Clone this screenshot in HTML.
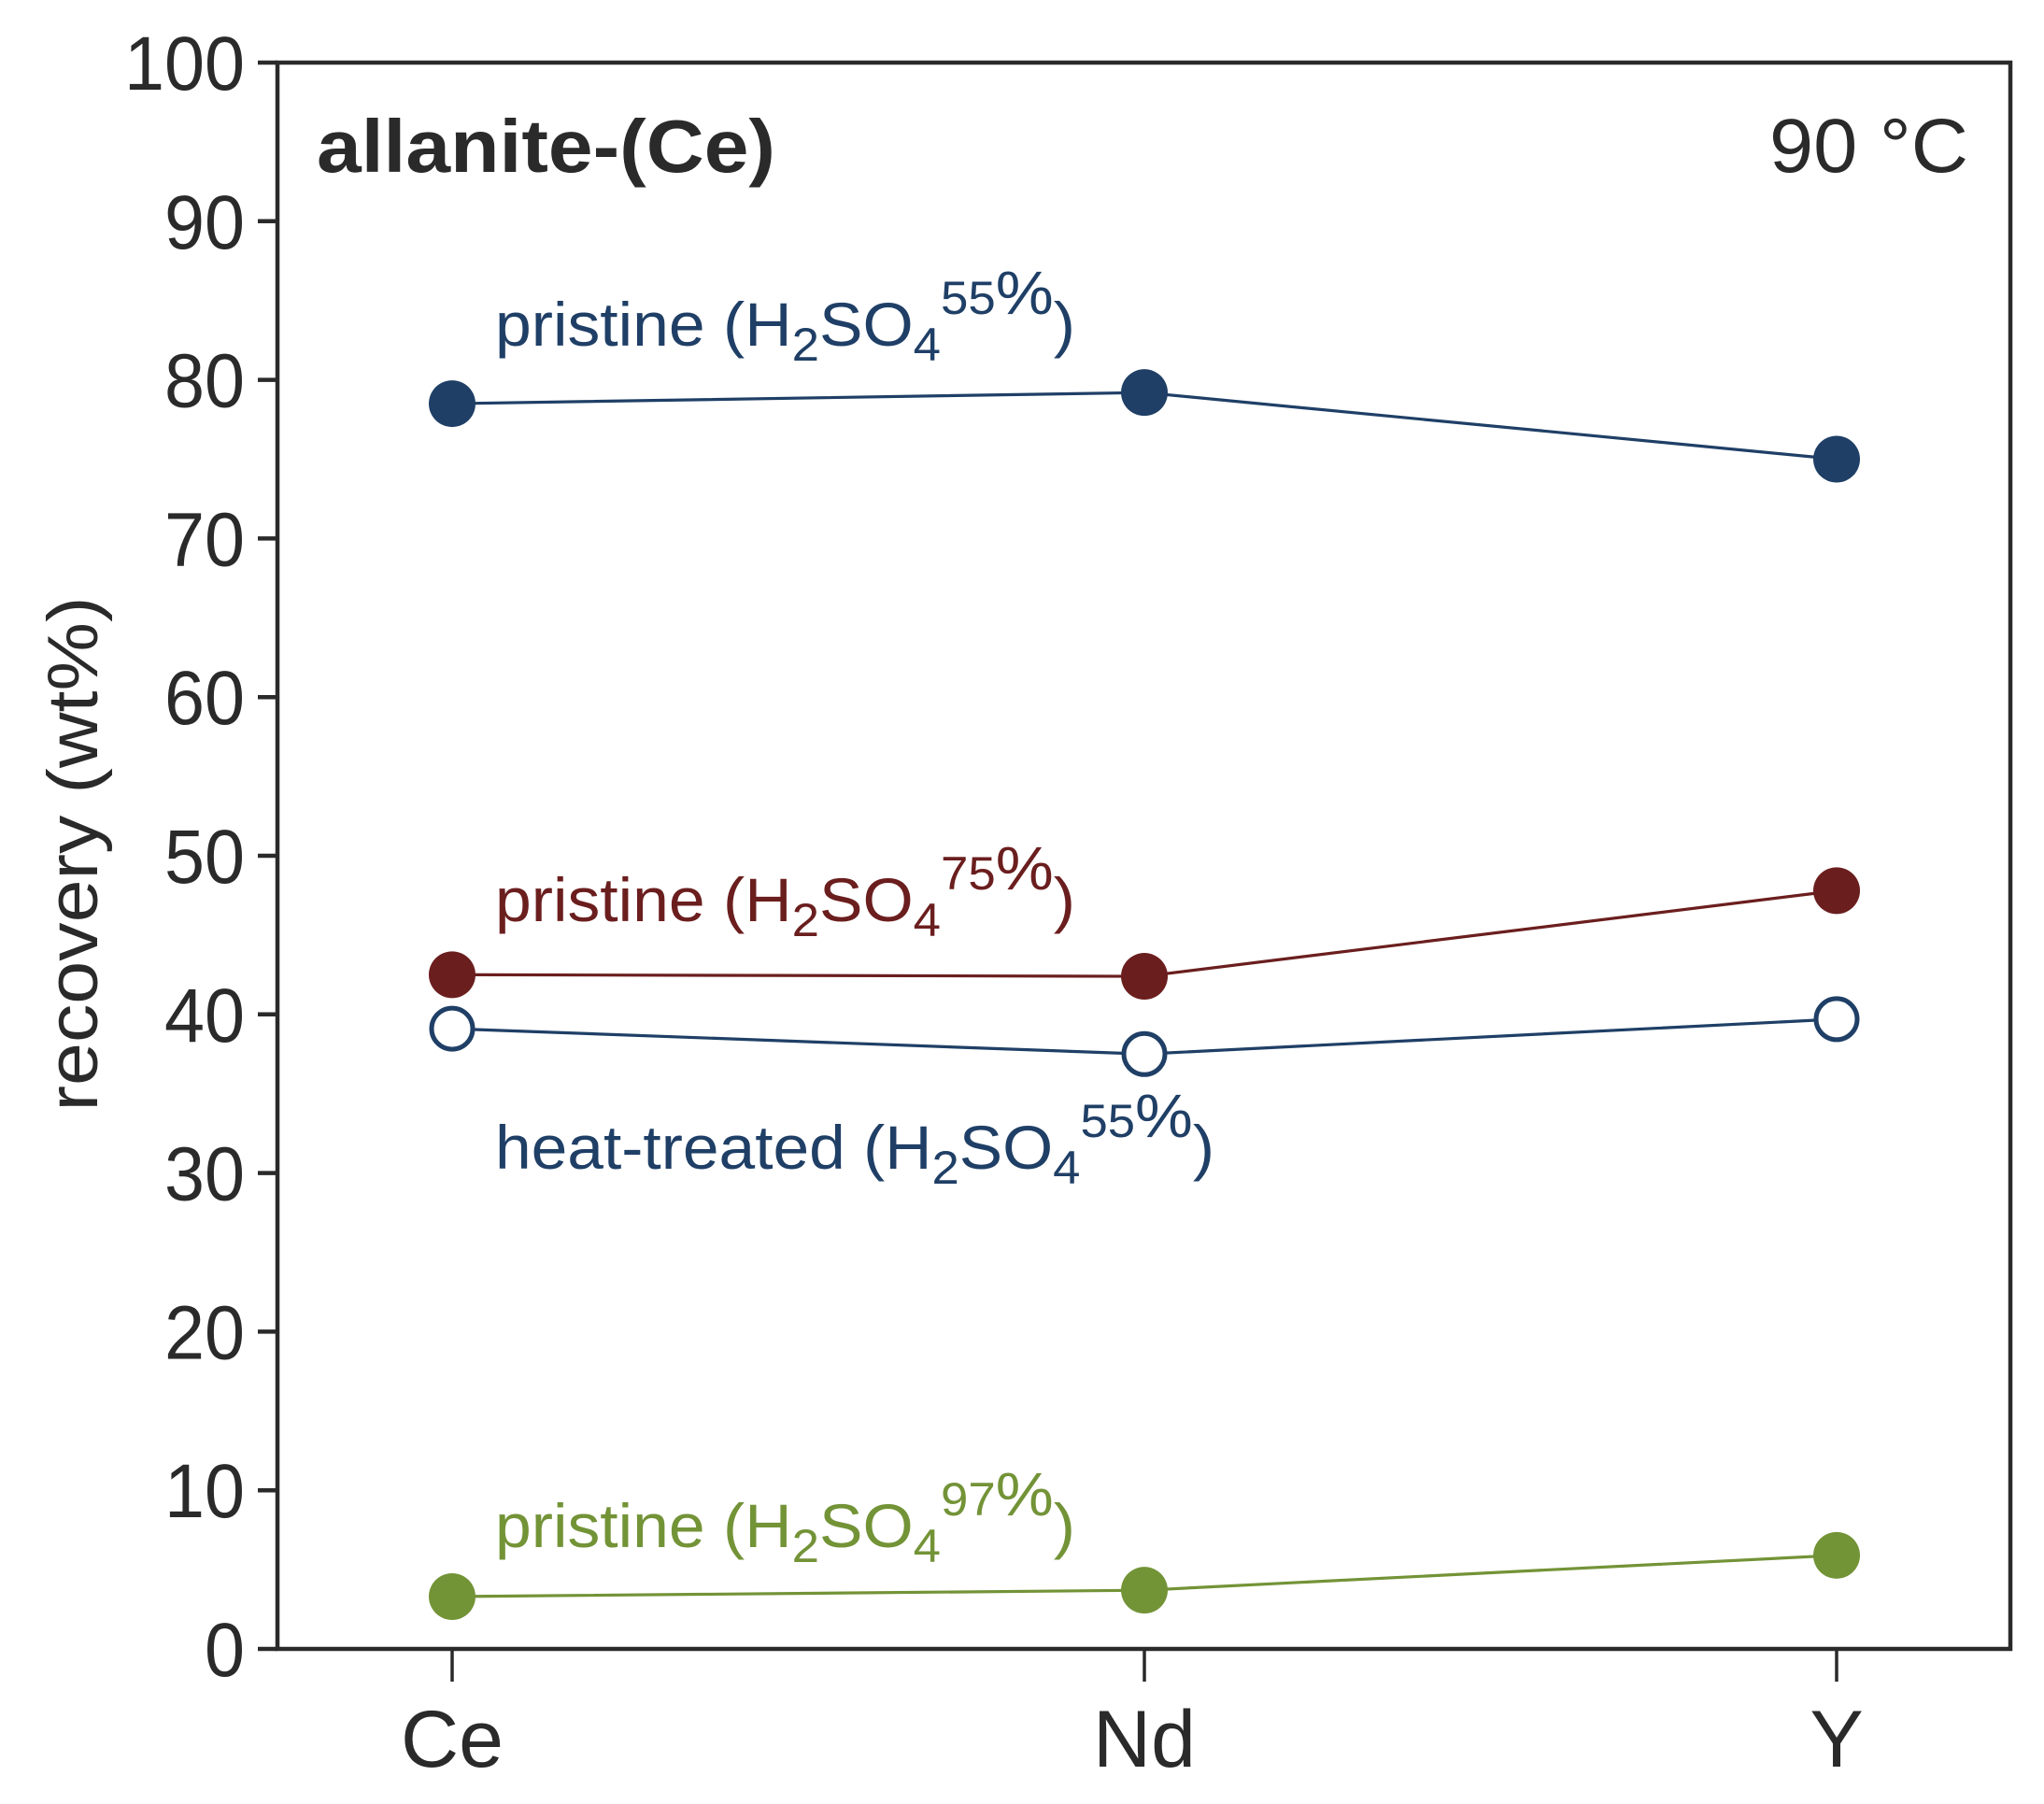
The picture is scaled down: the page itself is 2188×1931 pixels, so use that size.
<!DOCTYPE html>
<html><head><meta charset="utf-8"><style>
html,body{margin:0;padding:0;background:#fff;}
svg{display:block;font-family:"Liberation Sans",Arial,sans-serif;}
</style></head><body>
<svg id="chart" width="2188" height="1931" viewBox="0 0 2188 1931" xmlns="http://www.w3.org/2000/svg">
<g id="axes"></g>
<g id="series"></g>
<g id="labels">
  <text x="339" y="184" font-size="80" font-weight="bold" fill="#2a2a2a" textLength="491" lengthAdjust="spacingAndGlyphs">allanite-(Ce)</text>
  <text x="1894" y="184" font-size="82" fill="#2a2a2a" textLength="213" lengthAdjust="spacingAndGlyphs">90 °C</text>
  <text transform="translate(104,914) rotate(-90)" font-size="76" fill="#2a2a2a" text-anchor="middle" textLength="551" lengthAdjust="spacingAndGlyphs">recovery (wt%)</text>
  <text x="530" y="370" font-size="66" fill="#1f3f66" textLength="621" lengthAdjust="spacingAndGlyphs">pristine (H<tspan font-size="50" dy="16">2</tspan><tspan dy="-16">SO</tspan><tspan font-size="50" dy="16">4</tspan><tspan font-size="50" dy="-50">55</tspan><tspan>%</tspan><tspan dy="34">)</tspan></text>
  <text x="530" y="986" font-size="66" fill="#6b1e1e" textLength="621" lengthAdjust="spacingAndGlyphs">pristine (H<tspan font-size="50" dy="16">2</tspan><tspan dy="-16">SO</tspan><tspan font-size="50" dy="16">4</tspan><tspan font-size="50" dy="-50">75</tspan><tspan>%</tspan><tspan dy="34">)</tspan></text>
  <text x="530" y="1251" font-size="66" fill="#1f3f66" textLength="770" lengthAdjust="spacingAndGlyphs">heat-treated (H<tspan font-size="50" dy="16">2</tspan><tspan dy="-16">SO</tspan><tspan font-size="50" dy="16">4</tspan><tspan font-size="50" dy="-50">55</tspan><tspan>%</tspan><tspan dy="34">)</tspan></text>
  <text x="530" y="1656" font-size="66" fill="#739337" textLength="621" lengthAdjust="spacingAndGlyphs">pristine (H<tspan font-size="50" dy="16">2</tspan><tspan dy="-16">SO</tspan><tspan font-size="50" dy="16">4</tspan><tspan font-size="50" dy="-50">97</tspan><tspan>%</tspan><tspan dy="34">)</tspan></text>
</g>
</svg>
<script>
const categories = ["Ce", "Nd", "Y"];
const yTicks = [0, 10, 20, 30, 40, 50, 60, 70, 80, 90, 100];
const pristine55 = [78.5, 79.2, 75.0];
const pristine75 = [42.5, 42.4, 47.8];
const heat55 = [39.1, 37.5, 39.7];
const pristine97 = [3.3, 3.7, 5.9];

const NS = "http://www.w3.org/2000/svg";
const L = 297, R = 2152, T = 67, B = 1765;
const catX = [484, 1225, 1966];
function xScale(i){ return catX[0] + (catX[2]-catX[0]) * i / (categories.length-1); }
function yScale(v){ return B - (B-T) * v / 100; }
function mk(tag, attrs, parent){ const e=document.createElementNS(NS,tag); for(const k in attrs) e.setAttribute(k,attrs[k]); parent.appendChild(e); return e; }

const axes = document.getElementById('axes');
const frame = mk('rect',{x:L,y:T,width:R-L,height:B-T,fill:'none',stroke:'#2a2a2a','stroke-width':4.5},axes);


yTicks.forEach(v=>{
  const y=yScale(v);
  const t=mk('line',{x1:276,x2:L,y1:y,y2:y,stroke:'#2a2a2a','stroke-width':4.5},axes);
  
  
  const s=String(v);
  const lb=mk('text',{x:262,y:y+29,'font-size':82,fill:'#2a2a2a','text-anchor':'end','textLength':s.length*43,'lengthAdjust':'spacingAndGlyphs'},axes);
  lb.textContent=s;
  
  
});
categories.forEach((c,i)=>{
  const x=xScale(i);
  const t=mk('line',{x1:x,x2:x,y1:B,y2:1800,stroke:'#2a2a2a','stroke-width':3.5},axes);
  
  
  const lb=mk('text',{x:x,y:1891,'font-size':86,fill:'#2a2a2a','text-anchor':'middle'},axes);
  lb.textContent=c;
  
  
});

const seriesG = document.getElementById('series');
function drawSeries(vals, color, open, name){
  const g=mk('g',{},seriesG);
  
  
  const pts=vals.map((v,i)=>xScale(i)+','+yScale(v)).join(' ');
  const pl=mk('polyline',{points:pts,fill:'none',stroke:color,'stroke-width':3.2},g);
  
  
  vals.forEach((v,i)=>{
    const c=mk('circle',{cx:xScale(i),cy:yScale(v),r:open?22:25,fill:open?'#fff':color,stroke:open?color:'none','stroke-width':open?5:0},g);
    
    
  });
}
drawSeries(pristine55,'#1f3f66',false,'series-pristine-55');
drawSeries(pristine75,'#6b1e1e',false,'series-pristine-75');
drawSeries(heat55,'#1f3f66',true,'series-heat-treated-55');
drawSeries(pristine97,'#739337',false,'series-pristine-97');
</script>
</body></html>
